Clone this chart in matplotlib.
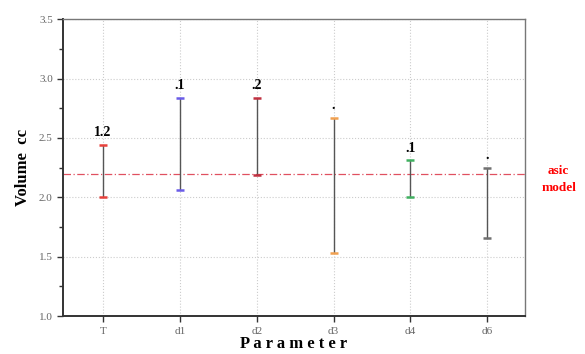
import numpy as np
import matplotlib.pyplot as plt

params = ["T", "d1", "d2", "d3", "d4", "d6"]
high = [2.44, 2.84, 2.84, 2.67, 2.31, 2.25]
low = [2.00, 2.06, 2.19, 1.53, 2.00, 1.66]
top_labels = ["1.2", ".1", ".2", ".", ".1", "."]
colors = ["#e8413c", "#6a5ce8", "#c03040", "#f0a050", "#40b060", "#707070"]
basic_model = 2.2

plt.rcParams.update({
    "font.family": "serif",
    "font.serif": ["Liberation Serif", "DejaVu Serif"],
})

fig = plt.figure(figsize=(5.85, 3.54), dpi=100)
ax = fig.add_axes([0.108, 0.107, 0.789, 0.839])

x = np.arange(len(params))
ax.vlines(x, low, high, color="#555555", lw=1.0, zorder=2)
for xi, h, l, c, t in zip(x, high, low, colors, top_labels):
    ax.plot([xi, xi], [h, l], ls="none", marker="_", ms=6, mew=1.8, color=c, zorder=3)
    ax.text(xi, h + 0.05, t, ha="center", va="bottom", fontsize=10, fontweight="bold")

ax.axhline(basic_model, color="#e05060", lw=0.9, ls=(0, (6, 2, 1, 2)), zorder=1)

ax.set_xlim(-0.52, 5.49)
ax.set_ylim(1.0, 3.5)
ax.set_xticks(x)
ax.set_xticklabels(params)
ax.set_yticks(np.arange(1.0, 3.51, 0.5))
ax.set_yticks(np.arange(1.25, 3.5, 0.5), minor=True)
ax.yaxis.set_major_formatter(plt.FormatStrFormatter("%.1f"))
ax.tick_params(axis="both", which="both", direction="out", labelsize=8,
               labelcolor="#666666", color="#333333")
ax.tick_params(axis="y", which="major", length=4, width=1.0)
ax.tick_params(axis="y", which="minor", length=3, width=1.0)
ax.tick_params(axis="x", length=4, width=1.0)
ax.grid(True, color="#cccccc", ls=":", lw=0.8)

for s in ["left", "bottom"]:
    ax.spines[s].set_linewidth(1.4)
    ax.spines[s].set_color("#333333")
for s in ["top", "right"]:
    ax.spines[s].set_linewidth(1.0)
    ax.spines[s].set_color("#777777")

ax.set_xlabel("P a r a m e t e r", fontsize=12, fontweight="bold", labelpad=0)
ax.set_ylabel("Volume  cc", fontsize=12, fontweight="bold", labelpad=6)

fig.text(0.955, 0.518, "asic", color="red", fontsize=9.5, fontweight="bold", ha="center", va="center")
fig.text(0.955, 0.468, "model", color="red", fontsize=9.5, fontweight="bold", ha="center", va="center")

fig.savefig("out.png", dpi=100)
